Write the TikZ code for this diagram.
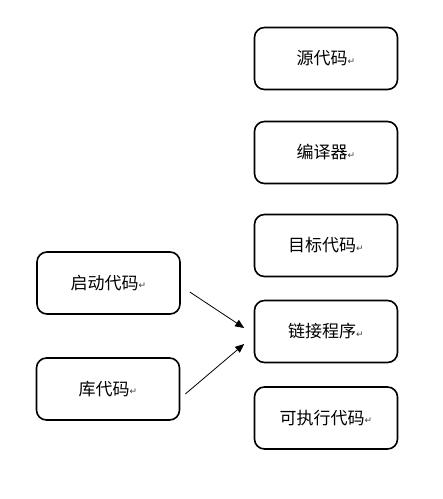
\documentclass[tikz,border=0pt]{standalone}
\usepackage{fontspec}
\usepackage{tikz}
\usetikzlibrary{arrows.meta}
\newfontfamily\cjk{Noto Sans CJK SC}
\newfontfamily\symfont{DejaVu Sans}
\newcommand{\parmark}{{\symfont\fontsize{9}{9}\selectfont\raisebox{0.5pt}{\textcolor{darkgray}{↵}}}}
\tikzset{code box/.style={draw, line width=1.6pt, rounded corners=10pt, minimum width=143pt, minimum height=62pt, font=\cjk\fontsize{17}{20}\selectfont}}
\tikzset{link arrow/.style={line width=0.8pt, -{Triangle[length=9pt,width=7.5pt]}}}

\begin{document}
\begin{tikzpicture}[x=1pt,y=-1pt]
\useasboundingbox (0,0) rectangle (443,499);

\node[code box] (src) at (326,58.5) {源代码\parmark};
\node[code box] (comp) at (326,152.5) {编译器\parmark};
\node[code box] (obj) at (326,245.5) {目标代码\parmark};
\node[code box] (link) at (326,331.5) {链接程序\parmark};
\node[code box] (exe) at (326,418) {可执行代码\parmark};

\node[code box] (start) at (108.5,283) {启动代码\parmark};
\node[code box] (lib) at (108,389) {库代码\parmark};

\draw[link arrow] ([shift={(9,9)}]start.east) -- ([shift={(-9.5,-3.5)}]link.west);
\draw[link arrow] ([shift={(5,5)}]lib.east) -- ([shift={(-9.5,12.5)}]link.west);

\end{tikzpicture}
\end{document}
